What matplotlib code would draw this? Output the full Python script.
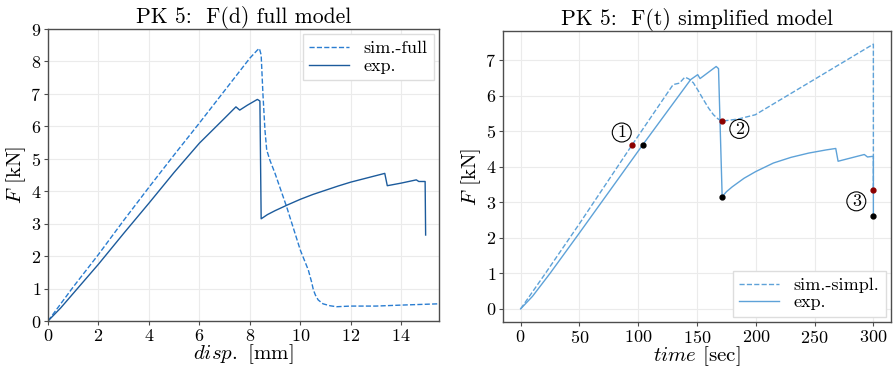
import matplotlib.pyplot as plt

plt.rcParams['font.family'] = 'serif'
plt.rcParams['font.serif'] = ['cmr10']
plt.rcParams['mathtext.fontset'] = 'cm'
plt.rcParams['axes.formatter.use_mathtext'] = True
plt.rcParams['font.size'] = 13
plt.rcParams['axes.labelsize'] = 15

# left: F(d), full model
sim_full_d = [0, 1, 2, 3, 4, 5, 6, 7, 8, 8.3, 8.38, 8.45, 8.52, 8.6, 8.67, 8.8, 9.0, 9.46, 10.0, 10.32,
              10.45, 10.52, 10.6, 10.71, 10.9, 11.18, 11.44, 12.0, 13.0, 14.0, 15.5]
sim_full_F = [0, 1.05, 2.05, 3.1, 4.12, 5.12, 6.1, 7.1, 8.1, 8.35, 8.4, 8.2, 7.0, 5.89, 5.27, 4.95, 4.55, 3.52,
              2.19, 1.57, 1.2, 0.96, 0.8, 0.65, 0.53, 0.47, 0.44, 0.46, 0.46, 0.49, 0.53]
exp_d = [0, 0.5, 1, 2, 3, 4, 5, 6, 7, 7.45, 7.6, 7.9, 8.3, 8.4, 8.45, 8.7, 9, 9.5, 10, 10.5, 11, 11.5,
         12, 12.5, 13, 13.35, 13.45, 14.0, 14.6, 14.7, 14.95, 14.97]
exp_F = [0, 0.4, 0.85, 1.75, 2.7, 3.63, 4.58, 5.48, 6.25, 6.6, 6.5, 6.65, 6.83, 6.78, 3.15, 3.28, 3.4, 3.58,
         3.75, 3.9, 4.03, 4.16, 4.28, 4.38, 4.48, 4.55, 4.17, 4.25, 4.35, 4.3, 4.3, 2.65]

# right: F(t), simplified model
sim_t = [0, 20, 50, 95, 129.7, 135, 139.7, 143, 146.9, 151, 155.4, 160, 164, 168, 171.4, 185, 199.6, 300, 300]
sim_F = [0, 0.95, 2.4, 4.63, 6.32, 6.36, 6.53, 6.48, 6.37, 6.15, 5.9, 5.65, 5.47, 5.35, 5.29, 5.35, 5.47, 7.46, 3.35]
exp_t = [0, 10, 25, 50, 104, 144.6, 150.6, 152.6, 166.3, 168.3, 171.4, 175, 180, 190, 200, 215, 230, 245,
         260, 268, 270, 292.3, 295, 300, 300]
exp_t_F = [0, 0.35, 1.0, 2.14, 4.63, 6.46, 6.6, 6.49, 6.83, 6.77, 3.16, 3.3, 3.44, 3.68, 3.87, 4.11, 4.27,
           4.39, 4.48, 4.52, 4.16, 4.35, 4.28, 4.3, 2.61]

# marked states
red_t = [95, 171.4, 300]
red_F = [4.63, 5.29, 3.35]
black_t = [104, 171.4, 300]
black_F = [4.63, 3.16, 2.61]
labels = ['1', '2', '3']
label_t = [86, 186, 285.5]
label_F = [4.97, 5.07, 3.03]

fig = plt.figure(figsize=(8.93, 3.69), dpi=100)
ax1 = fig.add_axes([48 / 893, 48 / 369, 391 / 893, 292 / 369])
ax2 = fig.add_axes([503 / 893, 47 / 369, 388 / 893, 291 / 369])

for ax in (ax1, ax2):
    ax.grid(True, color='#ebebeb', linewidth=0.8)
    ax.set_axisbelow(True)
    for s in ax.spines.values():
        s.set_color('0.3')
        s.set_linewidth(1.0)
    ax.tick_params(direction='out', length=3, width=0.8, color='0.3', pad=2)

ax1.plot(sim_full_d, sim_full_F, '--', color='#2a7dd1', lw=1.0, label='sim.-full')
ax1.plot(exp_d, exp_F, '-', color='#1c5b9c', lw=1.0, label='exp.')
ax1.set_xlim(0, 15.5)
ax1.set_ylim(0, 9)
ax1.set_xticks(range(0, 16, 2))
ax1.set_yticks(range(0, 10))
ax1.set_title('PK 5:  F(d) full model', pad=3)
ax1.set_xlabel(r'$disp.$ [mm]', labelpad=-1)
ax1.set_ylabel(r'$F$ [kN]', labelpad=2)
ax1.legend(loc='upper right', fancybox=False, framealpha=1, edgecolor='#dddddd', handlelength=2.2,
           borderpad=0.35, labelspacing=0.1, borderaxespad=0.3)

ax2.plot(sim_t, sim_F, '--', color='#5ea2d8', lw=1.0, label='sim.-simpl.')
ax2.plot(exp_t, exp_t_F, '-', color='#5ea2d8', lw=1.0, label='exp.')
ax2.plot(red_t, red_F, 'o', color='#8b0000', ms=3.5, zorder=5)
ax2.plot(black_t, black_F, 'o', color='black', ms=3.5, zorder=5)
for lab, t, f in zip(labels, label_t, label_F):
    ax2.text(t, f, lab, ha='center', va='center', fontsize=13,
             bbox=dict(boxstyle='circle,pad=0.1', fc='none', ec='black', lw=0.8))
ax2.set_xlim(-15, 315)
ax2.set_ylim(-0.37, 7.83)
ax2.set_xticks(range(0, 301, 50))
ax2.set_yticks(range(0, 8))
ax2.set_title('PK 5:  F(t) simplified model', pad=3)
ax2.set_xlabel(r'$time$ [sec]', labelpad=-1)
ax2.set_ylabel(r'$F$ [kN]', labelpad=2)
ax2.legend(loc='lower right', fancybox=False, framealpha=1, edgecolor='#dddddd', handlelength=2.2,
           borderpad=0.35, labelspacing=0.1, borderaxespad=0.3)

fig.savefig('out.png', dpi=100)
